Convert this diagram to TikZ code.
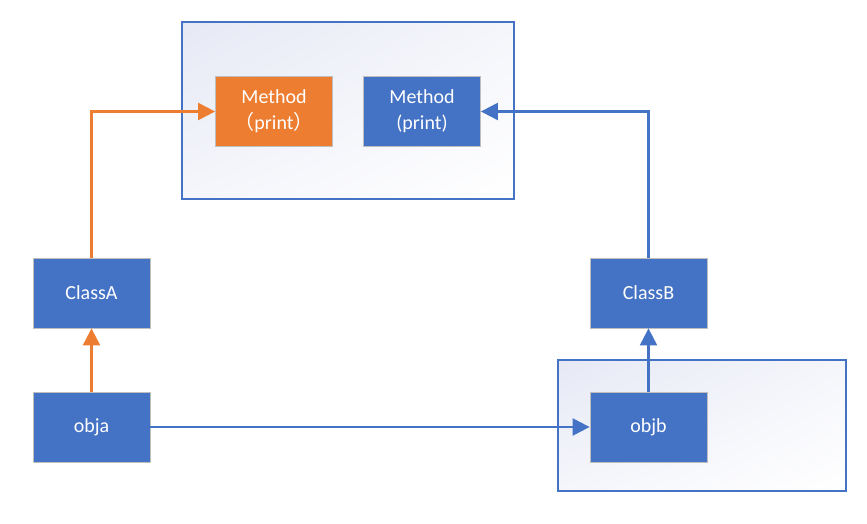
\documentclass[tikz,border=0pt]{standalone}
\usepackage{fontspec}
\setmainfont{Carlito}
\newfontfamily\cjk{Noto Sans CJK SC}
\usetikzlibrary{arrows.meta,shadings}
\definecolor{cblue}{RGB}{68,114,196}
\definecolor{corange}{RGB}{237,125,49}
\definecolor{cborder}{RGB}{190,190,190}
\definecolor{clav}{RGB}{230,233,245}
\definecolor{clavmid}{RGB}{245,246,251}
\tikzset{
  box/.style={draw=cborder, line width=0.8pt, minimum width=117pt, minimum height=70pt, inner sep=0pt, text=white, font=\fontsize{20}{26}\selectfont, align=center},
  bluebox/.style={box, fill=cblue},
  orangebox/.style={box, fill=corange},
  container/.style={draw=cblue, line width=1.8pt},
  grad/.style={upper left=clav, upper right=clavmid, lower left=clavmid, lower right=white},
  arr/.style={line width=2.2pt, -{Triangle[length=17pt,width=17pt]}},
}
\begin{document}
\begin{tikzpicture}[x=1pt,y=-1pt]
\useasboundingbox (0,0) rectangle (867,524);
% containers
\shade[grad] (182,22) rectangle (514,199);
\draw[container] (182,22) rectangle (514,199);
\shade[grad] (558,360) rectangle (846,491);
\draw[container] (558,360) rectangle (846,491);
% nodes
\node[orangebox] (mo) at (274,111.5) {Method\\{\cjk （}print{\cjk ）}};
\node[bluebox] (mb) at (422,111.5) {Method\\(print)};
\node[bluebox] (ca) at (91.5,293) {ClassA};
\node[bluebox] (cb) at (648.5,293) {ClassB};
\node[bluebox] (oa) at (91.5,427) {obja};
\node[bluebox] (ob) at (648.5,427) {objb};
% connectors
\draw[arr, corange] (ca.north) |- (mo.west);
\draw[arr, cblue] (cb.north) |- (mb.east);
\draw[arr, corange] (oa.north) -- (ca.south);
\draw[arr, cblue] (ob.north) -- (cb.south);
\draw[arr, cblue] (oa.east) -- (ob.west);
\end{tikzpicture}
\end{document}
